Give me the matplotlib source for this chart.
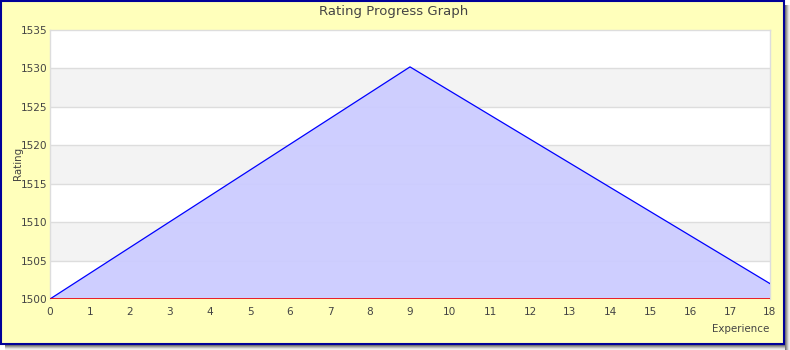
import matplotlib
matplotlib.use("Agg")
import matplotlib.pyplot as plt
from matplotlib.patches import Rectangle

title = "Rating Progress Graph"
experience = [0, 9, 18]
rating = [1500, 1530.2, 1502]
x_ticks = list(range(0, 19))
y_ticks = [1500, 1505, 1510, 1515, 1520, 1525, 1530, 1535]

W, H = 790, 350
fig = plt.figure(figsize=(W / 100, H / 100), dpi=100)
fig.patch.set_facecolor("white")

# shadow
for i, c in enumerate(["#777777", "#999999", "#bbbbbb", "#dddddd", "#eeeeee"]):
    fig.add_artist(Rectangle(((785 + i) / W, 0), 1 / W, (H - 5) / H,
                             transform=fig.transFigure, facecolor=c, edgecolor="none", zorder=0))
    fig.add_artist(Rectangle((5 / W, (H - 346 - i) / H), (780) / W, 1 / H,
                             transform=fig.transFigure, facecolor=c, edgecolor="none", zorder=0))
# yellow background with dark blue border
fig.add_artist(Rectangle((1 / W, (H - 344) / H), 783 / W, 343 / H,
                         transform=fig.transFigure, facecolor="#ffffbb",
                         edgecolor="#000099", linewidth=1.5, zorder=0))

ax = fig.add_axes([50 / W, (H - 299) / H, 720 / W, 269 / H])
ax.set_facecolor("white")
ax.set_xlim(0, 18)
ax.set_ylim(1500, 1535)

# alternating bands
for k, lo in enumerate(y_ticks[:-1]):
    if k % 2 == 1:
        ax.axhspan(lo, lo + 5, facecolor="#f3f3f3", edgecolor="none", zorder=0)
for y in y_ticks[1:-1]:
    ax.axhline(y, color="#dddddd", linewidth=1, zorder=1)

ax.fill_between(experience, rating, 1500, facecolor="#ccccff", alpha=0.95, edgecolor="none", zorder=2)
ax.plot(experience, rating, color="#0000ff", linewidth=0.9, zorder=3)
ax.axhline(1500, color="#ee0000", linewidth=1.2, zorder=4)

ax.set_xticks(x_ticks)
ax.set_yticks(y_ticks)
ax.tick_params(length=0, labelsize=7.6, colors="#444444")
ax.tick_params(axis="x", pad=6)
ax.tick_params(axis="y", pad=2)
for s in ax.spines.values():
    s.set_color("#dddddd")
    s.set_linewidth(1)
ax.spines["bottom"].set_visible(False)

fig.text(394 / W, 1 - 11 / H, title, ha="center", va="center", fontsize=9.5, color="#444444")
fig.text(18 / W, 1 - 163 / H, "Rating", ha="center", va="center", rotation=90, fontsize=7.4, color="#444444")
fig.text(769 / W, 1 - 329 / H, "Experience", ha="right", va="center", fontsize=7.4, color="#444444")

fig.savefig("out.png", dpi=100, facecolor=fig.get_facecolor())
